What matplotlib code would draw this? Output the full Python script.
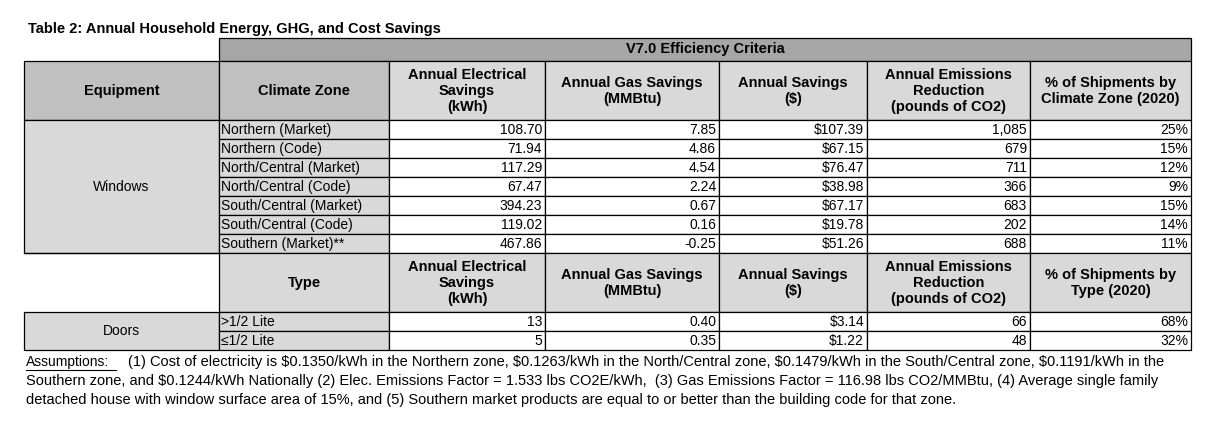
import matplotlib.pyplot as plt
from matplotlib.patches import Rectangle

plt.rcParams['font.family'] = ['Liberation Sans', 'DejaVu Sans']
plt.rcParams['text.parse_math'] = False

title = "Table 2: Annual Household Energy, GHG, and Cost Savings"
group_label = "V7.0 Efficiency Criteria"

zone_headers = ["Equipment", "Climate Zone", "Annual Electrical\nSavings\n(kWh)",
                "Annual Gas Savings\n(MMBtu)", "Annual Savings\n($)",
                "Annual Emissions\nReduction\n(pounds of CO2)",
                "% of Shipments by\nClimate Zone (2020)"]
type_headers = ["", "Type", "Annual Electrical\nSavings\n(kWh)",
                "Annual Gas Savings\n(MMBtu)", "Annual Savings\n($)",
                "Annual Emissions\nReduction\n(pounds of CO2)",
                "% of Shipments by\nType (2020)"]

zones = ["Northern (Market)", "Northern (Code)", "North/Central (Market)",
         "North/Central (Code)", "South/Central (Market)", "South/Central (Code)",
         "Southern (Market)**"]
win_elec = [108.70, 71.94, 117.29, 67.47, 394.23, 119.02, 467.86]
win_gas = [7.85, 4.86, 4.54, 2.24, 0.67, 0.16, -0.25]
win_cost = [107.39, 67.15, 76.47, 38.98, 67.17, 19.78, 51.26]
win_emis = [1085, 679, 711, 366, 683, 202, 688]
win_share = [25, 15, 12, 9, 15, 14, 11]

door_types = [">1/2 Lite", "\u22641/2 Lite"]
door_elec = [13, 5]
door_gas = [0.40, 0.35]
door_cost = [3.14, 1.22]
door_emis = [66, 48]
door_share = [68, 32]

notes = [
    "(1) Cost of electricity is $0.1350/kWh in the Northern zone, $0.1263/kWh in the North/Central zone, $0.1479/kWh in the South/Central zone, $0.1191/kWh in the",
    "Southern zone, and $0.1244/kWh Nationally (2) Elec. Emissions Factor = 1.533 lbs CO2E/kWh,  (3) Gas Emissions Factor = 116.98 lbs CO2/MMBtu, (4) Average single family",
    "detached house with window surface area of 15%, and (5) Southern market products are equal to or better than the building code for that zone.",
]

# layout in pixels
xs = [24, 219, 389, 545, 719, 867, 1030, 1191]
row_h = 19
LIGHT = '#d9d9d9'
MID = '#c0c0c0'
DARK = '#a6a6a6'
FS = 10
FSB = 10.5
FSN = 10.5
LW = 0.9

fig = plt.figure(figsize=(12.16, 4.36), dpi=100)
ax = fig.add_axes([0, 0, 1, 1])
ax.set_xlim(0, 1216)
ax.set_ylim(436, 0)
ax.axis('off')


def cell(x0, x1, y0, y1, color='white', lw=LW):
    ax.add_patch(Rectangle((x0, y0), x1 - x0, y1 - y0, facecolor=color,
                           edgecolor='black', linewidth=lw))


def rtext(col, y, s):
    ax.text(xs[col + 1] - 3, y, s, ha='right', va='center', fontsize=FS)


ax.text(28, 29, title, fontsize=FSB, fontweight='bold', va='center')

# group header
cell(xs[1], xs[-1], 38, 61, DARK)
ax.text((xs[1] + xs[-1]) / 2, 49.5, group_label, fontsize=FSB, fontweight='bold',
        ha='center', va='center')

# first header row
for i, h in enumerate(zone_headers):
    cell(xs[i], xs[i + 1], 61, 120, MID if i < 2 else LIGHT)
    ax.text((xs[i] + xs[i + 1]) / 2, 91, h, fontsize=FSB, fontweight='bold',
            ha='center', va='center', linespacing=1.2)

# windows block
y0 = 120
cell(xs[0], xs[1], y0, y0 + row_h * len(zones), LIGHT)
ax.text((xs[0] + xs[1]) / 2, y0 + row_h * len(zones) / 2, "Windows",
        fontsize=FS, ha='center', va='center')
for r, z in enumerate(zones):
    ya = y0 + r * row_h
    cell(xs[1], xs[2], ya, ya + row_h, LIGHT)
    for c in range(2, 7):
        cell(xs[c], xs[c + 1], ya, ya + row_h)
    yc = ya + row_h / 2 + 0.5
    ax.text(xs[1] + 2, yc, z, fontsize=FS, va='center')
    rtext(2, yc, f"{win_elec[r]:.2f}")
    rtext(3, yc, f"{win_gas[r]:.2f}")
    rtext(4, yc, f"${win_cost[r]:.2f}")
    rtext(5, yc, f"{win_emis[r]:,}")
    rtext(6, yc, f"{win_share[r]}%")

# second header row
yh = y0 + row_h * len(zones)
for i, h in enumerate(type_headers):
    if i == 0:
        continue
    cell(xs[i], xs[i + 1], yh, yh + 59, LIGHT)
    ax.text((xs[i] + xs[i + 1]) / 2, yh + 30, h, fontsize=FSB, fontweight='bold',
            ha='center', va='center', linespacing=1.2)
ax.plot([xs[0], xs[1]], [yh, yh], color='black', lw=LW)

# doors block
yd = yh + 59
cell(xs[0], xs[1], yd, yd + row_h * len(door_types), LIGHT)
ax.text((xs[0] + xs[1]) / 2, yd + row_h * len(door_types) / 2, "Doors",
        fontsize=FS, ha='center', va='center')
for r, t in enumerate(door_types):
    ya = yd + r * row_h
    cell(xs[1], xs[2], ya, ya + row_h, LIGHT)
    for c in range(2, 7):
        cell(xs[c], xs[c + 1], ya, ya + row_h)
    yc = ya + row_h / 2 + 0.5
    ax.text(xs[1] + 2, yc, t, fontsize=FS, va='center')
    rtext(2, yc, f"{door_elec[r]}")
    rtext(3, yc, f"{door_gas[r]:.2f}")
    rtext(4, yc, f"${door_cost[r]:.2f}")
    rtext(5, yc, f"{door_emis[r]}")
    rtext(6, yc, f"{door_share[r]}%")

# assumptions
ax.text(26, 362, "Assumptions:", fontsize=FS, va='center')
ax.plot([26, 116], [370, 370], color='black', lw=0.8)
ax.text(128, 362, notes[0], fontsize=FSN, va='center')
ax.text(26, 381, notes[1], fontsize=FSN, va='center')
ax.text(26, 400, notes[2], fontsize=FSN, va='center')

fig.savefig('out.png', dpi=100)
